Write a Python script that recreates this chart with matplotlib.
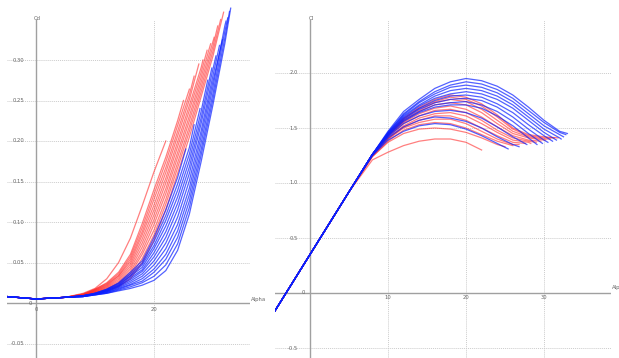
import matplotlib
matplotlib.use("Agg")
import matplotlib.pyplot as plt

# common alpha grid (deg); every polar ends at its own alpha_end
alpha_grid = [-5, 0, 5, 8, 10, 12, 14, 16, 18, 20, 22, 24, 26, 28, 30, 32]

red_ends = [31.8, 31.3, 30.8, 30.2, 29.6, 29.0, 28.3, 27.6, 26.8, 26.0, 25.0, 22.0]
red_cl = [
    [-0.22, 0.35, 0.92, 1.26, 1.45, 1.59, 1.69, 1.76, 1.80, 1.78, 1.72, 1.62, 1.50, 1.44, 1.42, 1.41],
    [-0.22, 0.35, 0.92, 1.26, 1.44, 1.58, 1.68, 1.74, 1.78, 1.76, 1.70, 1.60, 1.49, 1.43, 1.41, 1.41],
    [-0.22, 0.35, 0.92, 1.26, 1.44, 1.57, 1.66, 1.73, 1.76, 1.74, 1.67, 1.57, 1.47, 1.42, 1.40, 1.40],
    [-0.22, 0.35, 0.92, 1.26, 1.43, 1.56, 1.65, 1.71, 1.73, 1.71, 1.64, 1.54, 1.45, 1.41, 1.39, 1.39],
    [-0.22, 0.35, 0.92, 1.26, 1.43, 1.55, 1.63, 1.68, 1.70, 1.67, 1.60, 1.51, 1.43, 1.39, 1.38],
    [-0.22, 0.35, 0.92, 1.25, 1.42, 1.54, 1.61, 1.66, 1.67, 1.64, 1.57, 1.48, 1.41, 1.38, 1.37],
    [-0.22, 0.35, 0.92, 1.25, 1.41, 1.52, 1.59, 1.63, 1.64, 1.61, 1.54, 1.46, 1.39, 1.37, 1.36],
    [-0.22, 0.35, 0.92, 1.25, 1.40, 1.51, 1.57, 1.61, 1.61, 1.57, 1.50, 1.43, 1.37, 1.36],
    [-0.22, 0.35, 0.92, 1.25, 1.40, 1.50, 1.55, 1.58, 1.58, 1.54, 1.47, 1.40, 1.35, 1.35],
    [-0.22, 0.35, 0.92, 1.24, 1.38, 1.48, 1.53, 1.55, 1.54, 1.50, 1.44, 1.38, 1.34],
    [-0.22, 0.35, 0.92, 1.24, 1.37, 1.45, 1.49, 1.50, 1.49, 1.46, 1.41, 1.35, 1.33],
    [-0.22, 0.35, 0.92, 1.21, 1.28, 1.34, 1.38, 1.40, 1.40, 1.37, 1.30],
]
red_cd = [
    [0.008, 0.005, 0.007, 0.009, 0.012, 0.015, 0.020, 0.030, 0.050, 0.078, 0.115, 0.160, 0.205, 0.255, 0.305, 0.359],
    [0.008, 0.005, 0.007, 0.009, 0.013, 0.016, 0.022, 0.033, 0.055, 0.084, 0.122, 0.167, 0.212, 0.261, 0.311, 0.350],
    [0.008, 0.005, 0.007, 0.009, 0.013, 0.017, 0.024, 0.036, 0.060, 0.090, 0.128, 0.173, 0.218, 0.267, 0.317, 0.342],
    [0.008, 0.005, 0.007, 0.010, 0.014, 0.018, 0.025, 0.039, 0.064, 0.097, 0.135, 0.180, 0.225, 0.273, 0.323, 0.328],
    [0.008, 0.005, 0.007, 0.010, 0.014, 0.019, 0.027, 0.042, 0.069, 0.103, 0.141, 0.186, 0.231, 0.279, 0.320],
    [0.008, 0.005, 0.007, 0.010, 0.015, 0.020, 0.029, 0.045, 0.074, 0.109, 0.148, 0.193, 0.238, 0.285, 0.312],
    [0.008, 0.005, 0.007, 0.010, 0.015, 0.021, 0.031, 0.048, 0.079, 0.115, 0.154, 0.199, 0.244, 0.291, 0.300],
    [0.008, 0.005, 0.007, 0.010, 0.016, 0.022, 0.033, 0.051, 0.084, 0.121, 0.161, 0.206, 0.251, 0.295],
    [0.008, 0.005, 0.007, 0.011, 0.016, 0.023, 0.034, 0.054, 0.088, 0.128, 0.167, 0.212, 0.257, 0.280],
    [0.008, 0.005, 0.007, 0.011, 0.017, 0.024, 0.036, 0.057, 0.093, 0.134, 0.174, 0.219, 0.264],
    [0.008, 0.005, 0.007, 0.011, 0.017, 0.025, 0.038, 0.060, 0.098, 0.140, 0.180, 0.225, 0.250],
    [0.008, 0.005, 0.007, 0.012, 0.018, 0.030, 0.050, 0.080, 0.120, 0.162, 0.200],
]

blue_ends = [33.0, 32.8, 32.5, 32.2, 31.6, 31.1, 30.5, 29.8, 29.1, 27.8, 26.8, 25.4]
blue_cl = [
    [-0.22, 0.35, 0.92, 1.26, 1.47, 1.65, 1.76, 1.86, 1.92, 1.95, 1.93, 1.88, 1.80, 1.69, 1.57, 1.47, 1.45],
    [-0.22, 0.35, 0.92, 1.26, 1.46, 1.63, 1.74, 1.83, 1.89, 1.92, 1.90, 1.85, 1.77, 1.66, 1.55, 1.46, 1.44],
    [-0.22, 0.35, 0.92, 1.26, 1.46, 1.62, 1.73, 1.81, 1.87, 1.89, 1.87, 1.82, 1.74, 1.63, 1.52, 1.44, 1.42],
    [-0.22, 0.35, 0.92, 1.26, 1.45, 1.61, 1.71, 1.79, 1.84, 1.86, 1.84, 1.79, 1.71, 1.60, 1.49, 1.41, 1.40],
    [-0.22, 0.35, 0.92, 1.26, 1.45, 1.60, 1.70, 1.77, 1.81, 1.83, 1.81, 1.76, 1.68, 1.57, 1.46, 1.39],
    [-0.22, 0.35, 0.92, 1.26, 1.44, 1.59, 1.68, 1.75, 1.79, 1.80, 1.78, 1.72, 1.64, 1.53, 1.43, 1.38],
    [-0.22, 0.35, 0.92, 1.26, 1.44, 1.58, 1.67, 1.73, 1.76, 1.77, 1.75, 1.69, 1.60, 1.49, 1.39, 1.37],
    [-0.22, 0.35, 0.92, 1.26, 1.43, 1.57, 1.65, 1.71, 1.73, 1.74, 1.71, 1.65, 1.56, 1.45, 1.36],
    [-0.22, 0.35, 0.92, 1.26, 1.43, 1.56, 1.64, 1.69, 1.71, 1.71, 1.68, 1.61, 1.52, 1.41, 1.35],
    [-0.22, 0.35, 0.92, 1.26, 1.42, 1.54, 1.61, 1.65, 1.66, 1.64, 1.59, 1.51, 1.42, 1.35],
    [-0.22, 0.35, 0.92, 1.25, 1.41, 1.51, 1.57, 1.60, 1.59, 1.56, 1.50, 1.42, 1.35, 1.33],
    [-0.22, 0.35, 0.92, 1.25, 1.39, 1.47, 1.52, 1.54, 1.53, 1.49, 1.43, 1.36, 1.31],
]
blue_cd = [
    [0.008, 0.005, 0.007, 0.008, 0.010, 0.012, 0.015, 0.018, 0.022, 0.028, 0.040, 0.065, 0.110, 0.175, 0.245, 0.320, 0.364],
    [0.008, 0.005, 0.007, 0.008, 0.010, 0.012, 0.016, 0.020, 0.025, 0.033, 0.047, 0.073, 0.118, 0.183, 0.252, 0.327, 0.360],
    [0.008, 0.005, 0.007, 0.008, 0.010, 0.013, 0.017, 0.022, 0.027, 0.038, 0.054, 0.081, 0.126, 0.190, 0.259, 0.335, 0.352],
    [0.008, 0.005, 0.007, 0.008, 0.011, 0.013, 0.018, 0.023, 0.030, 0.042, 0.060, 0.089, 0.134, 0.198, 0.267, 0.342, 0.348],
    [0.008, 0.005, 0.007, 0.008, 0.011, 0.014, 0.019, 0.025, 0.033, 0.047, 0.067, 0.097, 0.142, 0.206, 0.274, 0.325],
    [0.008, 0.005, 0.007, 0.008, 0.011, 0.014, 0.020, 0.027, 0.036, 0.052, 0.074, 0.106, 0.151, 0.213, 0.281, 0.318],
    [0.008, 0.005, 0.007, 0.009, 0.011, 0.015, 0.021, 0.029, 0.039, 0.057, 0.081, 0.115, 0.160, 0.222, 0.289, 0.305],
    [0.008, 0.005, 0.007, 0.009, 0.011, 0.015, 0.021, 0.031, 0.041, 0.062, 0.088, 0.123, 0.168, 0.229, 0.290],
    [0.008, 0.005, 0.007, 0.009, 0.011, 0.016, 0.022, 0.033, 0.044, 0.067, 0.095, 0.131, 0.176, 0.237, 0.275],
    [0.008, 0.005, 0.007, 0.009, 0.012, 0.016, 0.023, 0.034, 0.047, 0.071, 0.102, 0.139, 0.184, 0.240],
    [0.008, 0.005, 0.007, 0.009, 0.012, 0.017, 0.024, 0.036, 0.049, 0.076, 0.108, 0.147, 0.192, 0.220],
    [0.008, 0.005, 0.007, 0.009, 0.012, 0.017, 0.025, 0.038, 0.052, 0.081, 0.115, 0.155, 0.190],
]

cd_ticks = [-0.05, 0.05, 0.10, 0.15, 0.20, 0.25, 0.30]
cd_labels = ["-0.05", "0.05", "0.10", "0.15", "0.20", "0.25", "0.30"]
cl_ticks = [-0.5, 0.5, 1.0, 1.5, 2.0]
cl_labels = ["-0.5", "0.5", "1.0", "1.5", "2.0"]
left_xticks = [20]
right_xticks = [10, 20, 30]

GRID = "#cccccc"
AXIS = "#a0a0a0"
TXT = "#666666"
FS = 3.8


def polar_alpha(end):
    return [a for a in alpha_grid if a < end] + [end]


fig = plt.figure(figsize=(6.19, 3.58), dpi=100)
W, H = 619.0, 358.0

# left: Cd vs alpha  (pixel mapping)
axd = fig.add_axes([7 / W, 0, 243 / W, 1])
axd.set_xlim((7 - 36) / 5.9, (250 - 36) / 5.9)
axd.set_ylim((303 - 358) / 810, 303 / 810)

# right: Cl vs alpha
axl = fig.add_axes([275 / W, 0, 336 / W, 1])
axl.set_xlim((275 - 310) / 7.8, (611 - 310) / 7.8)
axl.set_ylim((293 - 358) / 110, 293 / 110)

top_d = (358 - 20) / 358.0
for ax in (axd, axl):
    ax.axis("off")

# grid + axes lines
for t in cd_ticks:
    axd.axhline(t, color=GRID, lw=0.7, ls=(0, (1, 1)), zorder=0)
for t in left_xticks:
    axd.axvline(t, ymax=top_d, color=GRID, lw=0.7, ls=(0, (1, 1)), zorder=0)
axd.axhline(0, color=AXIS, lw=1.0, zorder=1)
axd.axvline(0, ymax=top_d, color=AXIS, lw=1.0, zorder=1)

for t in cl_ticks:
    axl.axhline(t, color=GRID, lw=0.7, ls=(0, (1, 1)), zorder=0)
for t in right_xticks:
    axl.axvline(t, ymax=top_d, color=GRID, lw=0.7, ls=(0, (1, 1)), zorder=0)
axl.axhline(0, color=AXIS, lw=1.0, zorder=1)
axl.axvline(0, ymax=top_d, color=AXIS, lw=1.0, zorder=1)

# curves: red first, blue on top
for end, cl, cd in zip(red_ends, red_cl, red_cd):
    a = polar_alpha(end)
    axl.plot(a, cl, color="#ff2a2a", lw=0.9, alpha=0.6, zorder=2)
    axd.plot(a, cd, color="#ff2a2a", lw=0.9, alpha=0.6, zorder=2)
for end, cl, cd in zip(blue_ends, blue_cl, blue_cd):
    a = polar_alpha(end)
    axl.plot(a, cl, color="#0a1fff", lw=0.9, alpha=0.7, zorder=3)
    axd.plot(a, cd, color="#0a1fff", lw=0.9, alpha=0.7, zorder=3)

# tick labels
for t, s in zip(cd_ticks, cd_labels):
    axd.text((24 - 36) / 5.9, t, s, fontsize=FS, color=TXT, ha="right", va="center")
for t in left_xticks:
    axd.text(t, -0.0086, str(t), fontsize=FS, color=TXT, ha="center", va="center")
axd.text(-1.0, -0.001, "0", fontsize=FS, color=TXT, ha="center", va="center")
axd.text(0, -0.0086, "0", fontsize=FS, color=TXT, ha="center", va="center")

for t, s in zip(cl_ticks, cl_labels):
    axl.text((298 - 310) / 7.8, t, s, fontsize=FS, color=TXT, ha="right", va="center")
for t in right_xticks:
    axl.text(t, -0.045, str(t), fontsize=FS, color=TXT, ha="center", va="center")
axl.text(-0.9, 0, "0", fontsize=FS, color=TXT, ha="center", va="center")

# axis titles
axd.text((37 - 36) / 5.9, (303 - 18) / 810, "Cd", fontsize=FS, color=TXT, ha="center", va="center")
axd.text((251 - 36) / 5.9, (303 - 299) / 810, "Alpha", fontsize=FS, color=TXT,
         ha="left", va="center", clip_on=False)
axl.text((311 - 310) / 7.8, (293 - 18) / 110, "Cl", fontsize=FS, color=TXT, ha="center", va="center")
axl.text((612 - 310) / 7.8, (293 - 287) / 110, "Alpha", fontsize=FS, color=TXT,
         ha="left", va="center", clip_on=False)

fig.savefig("out.png", dpi=100)
